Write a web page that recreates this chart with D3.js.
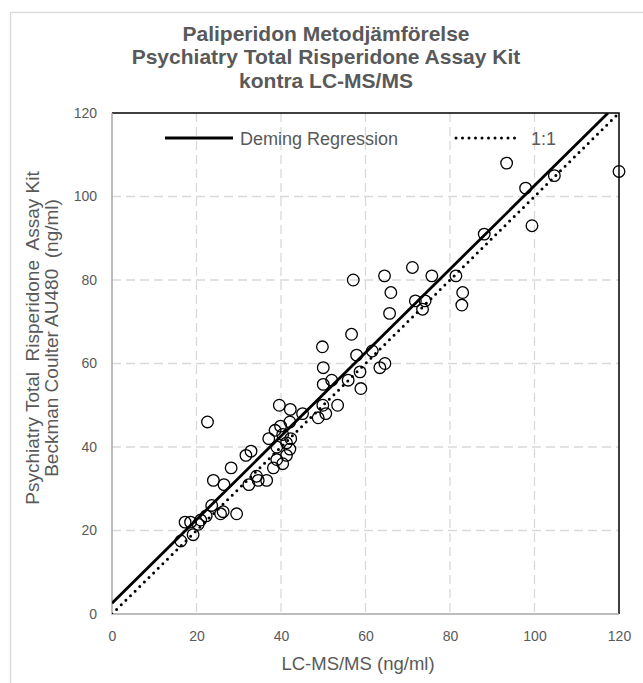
<!DOCTYPE html>
<html>
<head>
<meta charset="utf-8">
<script src="https://cdn.jsdelivr.net/npm/d3@7"></script>
<style>
  body { margin: 0; background: #fff; }
  text { font-family: "Liberation Sans", Arial, sans-serif; fill: #595959; }
</style>
</head>
<body>
<div id="chart"></div>
<script>
// Chart data
var lcms = [120, 104.7, 97.9, 93.4, 99.4, 88.1, 81.4, 83, 82.8, 75.7, 71.1, 71.8, 74.1, 73.5,
  64.5, 66, 65.7, 57.1, 56.7, 61.6, 57.9, 49.8, 50, 58.7, 58.9, 63.4, 64.6, 55.9, 52, 50,
  53.4, 49.9, 50.6, 48.8, 45.1, 42.2, 39.6, 22.6, 39.9, 42.1, 38.6, 37.1, 40.4, 42.3, 39,
  41.3, 42.1, 41.3, 39, 40.4, 38.2, 31.7, 32.9, 28.2, 24, 26.5, 32.4, 34.2, 34.6, 36.6,
  23.6, 26.3, 25.7, 29.5, 22.3, 20.4, 21, 17.3, 18.6, 19.2, 16.3];
var assayKit = [106, 105, 102, 108, 93, 91, 81, 77, 74, 81, 83, 75, 75, 73,
  81, 77, 72, 80, 67, 63, 62, 64, 59, 58, 54, 59, 60, 56, 56, 55,
  50, 50, 48, 47, 48, 49, 50, 46, 45, 46, 44, 42, 43, 42, 40,
  41, 39.5, 38, 37, 36, 35, 38, 39, 35, 32, 31, 31, 33, 32, 32,
  26, 24.5, 24, 24, 23.5, 21.5, 22.5, 22, 22, 19, 17.5];
var ticks = [0, 20, 40, 60, 80, 100, 120];
var demingIntercept = 2.6;
var demingSlope = 1.0;
var titleLines = ["Paliperidon Metodjämförelse", "Psychiatry Total Risperidone Assay Kit", "kontra LC-MS/MS"];
var yTitleLines = ["Psychiatry Total  Risperidone  Assay Kit", "Beckman Coulter AU480  (ng/ml)"];
var xTitle = "LC-MS/MS (ng/ml)";
var legendNames = ["Deming Regression", "1:1"];

var points = lcms.map(function(d, i) { return { x: d, y: assayKit[i] }; });

// Chart Params
var svgWidth = 643;
var svgHeight = 683;
var margin = { top: 113, right: 24, bottom: 69, left: 112 };
var width = svgWidth - margin.left - margin.right;
var height = svgHeight - margin.top - margin.bottom;

var svg = d3.select("#chart")
  .append("svg")
  .attr("width", svgWidth)
  .attr("height", svgHeight);

// outer chart frame
svg.append("rect")
  .attr("x", 10.5)
  .attr("y", 12.5)
  .attr("width", 660)
  .attr("height", 700)
  .attr("fill", "none")
  .attr("stroke", "#d9d9d9")
  .attr("stroke-width", 1.3);

var chartGroup = svg.append("g")
  .attr("transform", `translate(${margin.left}, ${margin.top})`);

var xScale = d3.scaleLinear().domain([0, 120]).range([0, width]);
var yScale = d3.scaleLinear().domain([0, 120]).range([height, 0]);

// gridlines
chartGroup.selectAll(".vgrid")
  .data(ticks.slice(1, -1))
  .enter()
  .append("line")
  .attr("x1", d => xScale(d)).attr("x2", d => xScale(d))
  .attr("y1", 0).attr("y2", height)
  .attr("stroke", "#d9d9d9")
  .attr("stroke-width", 1.3)
  .attr("stroke-dasharray", "9,5");

chartGroup.selectAll(".hgrid")
  .data(ticks.slice(1, -1))
  .enter()
  .append("line")
  .attr("y1", d => yScale(d)).attr("y2", d => yScale(d))
  .attr("x1", 0).attr("x2", width)
  .attr("stroke", "#d9d9d9")
  .attr("stroke-width", 1.3)
  .attr("stroke-dasharray", "9,5");

// plot border: black top and right, grey axes left and bottom
chartGroup.append("path")
  .attr("d", `M0,0H${width}V${height}`)
  .attr("fill", "none")
  .attr("stroke", "#000")
  .attr("stroke-width", 1.5);
chartGroup.append("path")
  .attr("d", `M0,0V${height}H${width}`)
  .attr("fill", "none")
  .attr("stroke", "#a6a6a6")
  .attr("stroke-width", 1.5);

// axes
var bottomAxis = d3.axisBottom(xScale).tickValues(ticks).tickSize(0).tickPadding(17);
var leftAxis = d3.axisLeft(yScale).tickValues(ticks).tickSize(0).tickPadding(15);

var gx = chartGroup.append("g")
  .attr("transform", `translate(0, ${height})`)
  .call(bottomAxis);
var gy = chartGroup.append("g").call(leftAxis);
[gx, gy].forEach(function(g) {
  g.select(".domain").remove();
  g.selectAll("text")
    .style("font-family", "Liberation Sans, Arial, sans-serif")
    .style("font-size", "14px")
    .attr("fill", "#595959");
});

// clip for lines
svg.append("clipPath").attr("id", "plotclip")
  .append("rect").attr("width", width).attr("height", height);

var lineGen = d3.line().x(d => xScale(d[0])).y(d => yScale(d[1]));

// 1:1 line
chartGroup.append("path")
  .attr("clip-path", "url(#plotclip)")
  .attr("d", lineGen([[0, 0], [120, 120]]))
  .attr("fill", "none")
  .attr("stroke", "#000")
  .attr("stroke-width", 3)
  .attr("stroke-linecap", "round")
  .attr("stroke-dasharray", "0,6.5");

// Deming regression line
var xEnd = (120 - demingIntercept) / demingSlope;
chartGroup.append("path")
  .attr("clip-path", "url(#plotclip)")
  .attr("d", lineGen([[0, demingIntercept], [xEnd, demingIntercept + demingSlope * xEnd]]))
  .attr("fill", "none")
  .attr("stroke", "#000")
  .attr("stroke-width", 2.8);

// points
chartGroup.selectAll("circle")
  .data(points)
  .enter()
  .append("circle")
  .attr("cx", d => xScale(d.x))
  .attr("cy", d => yScale(d.y))
  .attr("r", 5.8)
  .attr("fill", "none")
  .attr("stroke", "#000")
  .attr("stroke-width", 1.3);

// legend
var legend = svg.append("g");
legend.append("line")
  .attr("x1", 165).attr("x2", 233).attr("y1", 138).attr("y2", 138)
  .attr("stroke", "#000").attr("stroke-width", 2.8);
legend.append("text")
  .attr("x", 240).attr("y", 144.5)
  .style("font-size", "18px")
  .text(legendNames[0]);
legend.append("line")
  .attr("x1", 456).attr("x2", 520).attr("y1", 138).attr("y2", 138)
  .attr("stroke", "#000").attr("stroke-width", 3)
  .attr("stroke-linecap", "round")
  .attr("stroke-dasharray", "0,6.5");
legend.append("text")
  .attr("x", 531).attr("y", 144.5)
  .style("font-size", "18px")
  .text(legendNames[1]);

// title
svg.append("g").selectAll("text")
  .data(titleLines)
  .enter()
  .append("text")
  .attr("x", 326)
  .attr("y", (d, i) => 41 + i * 23.3)
  .attr("text-anchor", "middle")
  .style("font-size", "21px")
  .style("font-weight", "bold")
  .text(d => d);

// y axis title
svg.append("g").selectAll("text")
  .data(yTitleLines)
  .enter()
  .append("text")
  .attr("transform", (d, i) => `translate(${38.5 + i * 19.5}, 338) rotate(-90)`)
  .attr("text-anchor", "middle")
  .style("font-size", "19px")
  .style("white-space", "pre")
  .text(d => d);

// x axis title
svg.append("text")
  .attr("x", 358)
  .attr("y", 670)
  .attr("text-anchor", "middle")
  .style("font-size", "18.5px")
  .text(xTitle);
</script>
</body>
</html>
